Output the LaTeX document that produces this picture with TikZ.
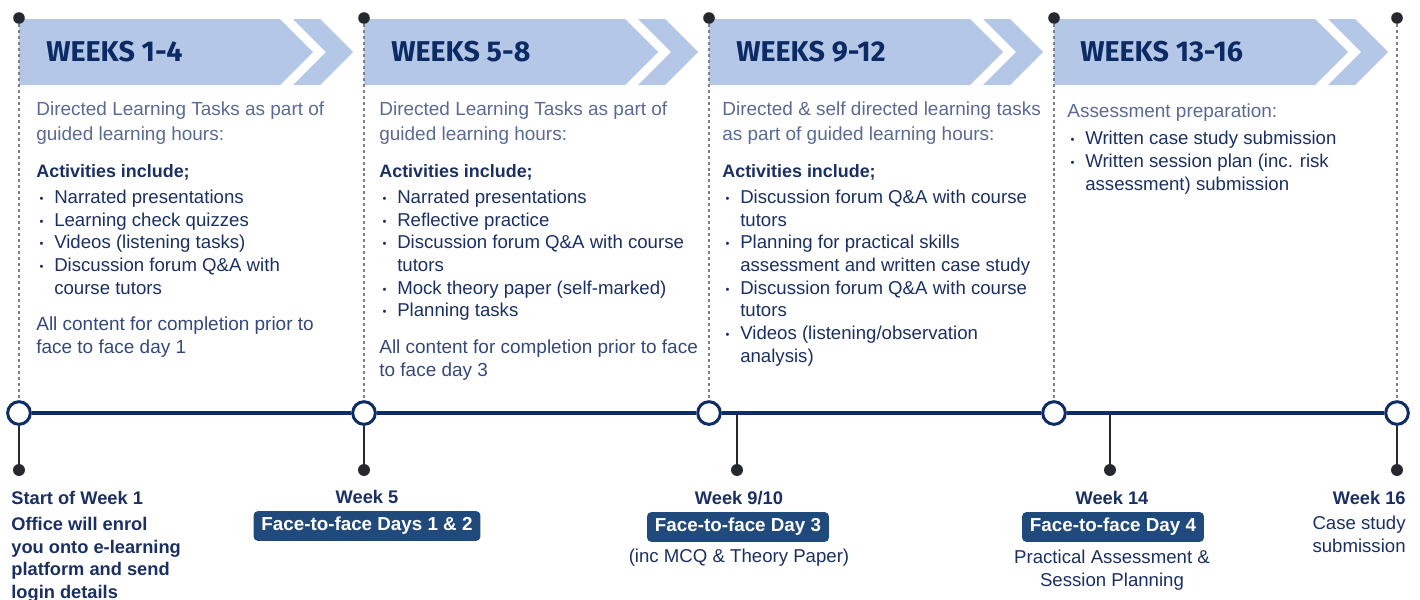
\documentclass[tikz,border=0pt]{standalone}
\usepackage{fontspec}
\setmainfont{Liberation Sans}
\newfontfamily\headfont{Fira Sans}
\usepackage{graphicx}
\usepackage{tikz}
\usetikzlibrary{positioning, calc}
\definecolor{bandblue}{HTML}{B4C7E7}
\definecolor{headnavy}{HTML}{0C2B64}
\definecolor{textnavy}{HTML}{1A2F62}
\definecolor{introgrey}{HTML}{5A6A94}
\definecolor{closenavy}{HTML}{34487A}
\definecolor{badgeblue}{HTML}{214A7C}
\definecolor{dotgrey}{HTML}{25282E}
\definecolor{lineblue}{HTML}{0E2C66}

\newcommand\bul{\makebox[10.2pt][l]{\hspace{1.8pt}\raisebox{0.1ex}{\scalebox{0.6}{\textbullet}}}}
\newcommand\ind{\hspace*{10.2pt}}

\begin{document}
\begin{tikzpicture}[
    x=0.02cm, y=-0.02cm,
    chevron/.pic={
      \fill[bandblue] (0,19) -- (261,19) -- (294,52) -- (261,85) -- (0,85) -- cycle;
      \fill[bandblue] (274,19) -- (301,19) -- (334,52) -- (301,85) -- (274,85) -- (307,52) -- cycle;
    },
    heading/.style={anchor=west, inner sep=0, text=headnavy,
                    font=\headfont\bfseries\fontsize{16.3}{18}\selectfont},
    intro/.style={anchor=north west, align=left, inner sep=0, text=introgrey,
                  font=\fontsize{10.8}{14.7}\selectfont},
    acts/.style={anchor=north west, align=left, inner sep=0, text=textnavy,
                 font=\fontsize{10.6}{12.9}\selectfont},
    when/.style={inner sep=0, text=textnavy, font=\bfseries\fontsize{10.4}{12.8}\selectfont},
    note/.style={inner sep=0, text=textnavy, font=\fontsize{10.6}{12.9}\selectfont},
    badge/.style={fill=badgeblue, text=white, rounded corners=2.5pt, inner xsep=4.5pt,
                  minimum height=17pt, inner ysep=0, font=\bfseries\fontsize{10.7}{12}\selectfont},
    milestone/.style={circle, draw=lineblue, line width=1.7pt, fill=white,
                      minimum size=12.9pt, inner sep=0},
    topdot/.style={circle, fill=dotgrey, minimum size=6.6pt, inner sep=0},
    stemdot/.style={circle, fill=dotgrey, minimum size=6.8pt, inner sep=0},
    guide/.style={draw=gray, line width=0.6pt, dash pattern=on 1.7pt off 1.7pt},
    stem/.style={draw=dotgrey, line width=0.7pt},
    timeline/.style={draw=lineblue, line width=1.9pt}
]
\useasboundingbox (0,0) rectangle (1420,599);

% Header bands
\pic at (19,0) {chevron};
\pic at (364,0) {chevron};
\pic at (709,0) {chevron};
\pic at (1054,0) {chevron};

\node[heading] at (46,52) (h1) {WEEKS 1-4};
\node[heading] at (391,52) (h2) {WEEKS 5-8};
\node[heading] at (736,52) (h3) {WEEKS 9-12};
\node[heading] at (1080,52) (h4) {WEEKS 13-16};

% Top dots and milestones
\node[topdot] at (19,18) (t1) {};
\node[topdot] at (364,18) (t2) {};
\node[topdot] at (709,18) (t3) {};
\node[topdot] at (1054,18) (t4) {};
\node[topdot] at (1397,18) (t5) {};

\node[milestone] at (19,413) (m1) {};
\node[milestone] at (364,413) (m2) {};
\node[milestone] at (709,413) (m3) {};
\node[milestone] at (1054,413) (m4) {};
\node[milestone] at (1397,413) (m5) {};

\draw[guide] (t1) -- (m1);
\draw[guide] (t2) -- (m2);
\draw[guide] (t3) -- (m3);
\draw[guide] (t4) -- (m4);
\draw[guide] (t5) -- (m5);

\draw[timeline] (m1) -- (m2);
\draw[timeline] (m2) -- (m3);
\draw[timeline] (m3) -- (m4);
\draw[timeline] (m4) -- (m5);

% Column text
\node[intro] at (36,101) (in1) {Directed Learning Tasks as part of\\guided learning hours:};
\node[acts] at (36,164) (ac1) {\fontsize{10.2}{12.9}\selectfont\bfseries Activities include;\\[2pt]
  \bul Narrated presentations\\
  \bul Learning check quizzes\\
  \bul Videos (listening tasks)\\
  \bul Discussion forum Q\&A with\\
  \ind course tutors};
\node[intro, text=closenavy, font=\fontsize{10.8}{13.1}\selectfont] at (36,316) (cl1) {All content for completion prior to\\face to face day 1};

\node[intro] at (379,101) (in2) {Directed Learning Tasks as part of\\guided learning hours:};
\node[acts] at (379,164) (ac2) {\fontsize{10.2}{12.9}\selectfont\bfseries Activities include;\\[2pt]
  \bul Narrated presentations\\
  \bul Reflective practice\\
  \bul Discussion forum Q\&A with course\\
  \ind tutors\\
  \bul Mock theory paper (self-marked)\\
  \bul Planning tasks};
\node[intro, text=closenavy, font=\fontsize{10.8}{13.1}\selectfont] at (379,339) (cl2) {All content for completion prior to face\\to face day 3};

\node[intro] at (722,101) (in3) {Directed \& self directed learning tasks\\as part of guided learning hours:};
\node[acts] at (722,164) (ac3) {\fontsize{10.2}{12.9}\selectfont\bfseries Activities include;\\[2pt]
  \bul Discussion forum Q\&A with course\\
  \ind tutors\\
  \bul Planning for practical skills\\
  \ind assessment and written case study\\
  \bul Discussion forum Q\&A with course\\
  \ind tutors\\
  \bul Videos (listening/observation\\
  \ind analysis)};

\node[intro] at (1067,103) (in4) {Assessment preparation:};
\node[acts] at (1067,131) (ac4) {\bul Written case study submission\\
  \bul Written session plan (inc. risk\\
  \ind assessment) submission};

% Stems below the timeline
\coordinate (j3) at (737,413);
\coordinate (j4) at (1110,413);
\node[stemdot] at (19,470) (s1) {};
\node[stemdot] at (364,470) (s2) {};
\node[stemdot] at (737,470) (s3) {};
\node[stemdot] at (1110,470) (s4) {};
\node[stemdot] at (1397,470) (s5) {};
\draw[stem] (m1) -- (s1);
\draw[stem] (m2) -- (s2);
\draw[stem] (j3) -- (s3);
\draw[stem] (j4) -- (s4);
\draw[stem] (m5) -- (s5);

% Milestone labels
\node[when, anchor=west] at (11,498) (w1) {Start of Week 1};
\node[note, anchor=north west, align=left, font=\bfseries\fontsize{10.4}{12.8}\selectfont] at (11,517) (d1)
  {Office will enrol\\you onto e-learning\\platform and send\\login details};

\node[when] at (367,497) (w2) {Week 5};
\node[badge] at (367,526) (f2) {Face-to-face Days 1 \& 2};

\node[when] at (739,498) (w3) {Week 9/10};
\node[badge] at (738,527) (f3) {Face-to-face Day 3};
\node[note] at (739,558) (d3) {(inc MCQ \& Theory Paper)};

\node[when] at (1112,498) (w4) {Week 14};
\node[badge] at (1113,527) (f4) {Face-to-face Day 4};
\node[note, anchor=north, align=center] at (1112,550) (d4) {Practical Assessment \&\\Session Planning};

\node[when, anchor=east] at (1406,498) (w5) {Week 16};
\node[note, anchor=north east, align=right] at (1406,516) (d5) {Case study\\submission};

\end{tikzpicture}
\end{document}
